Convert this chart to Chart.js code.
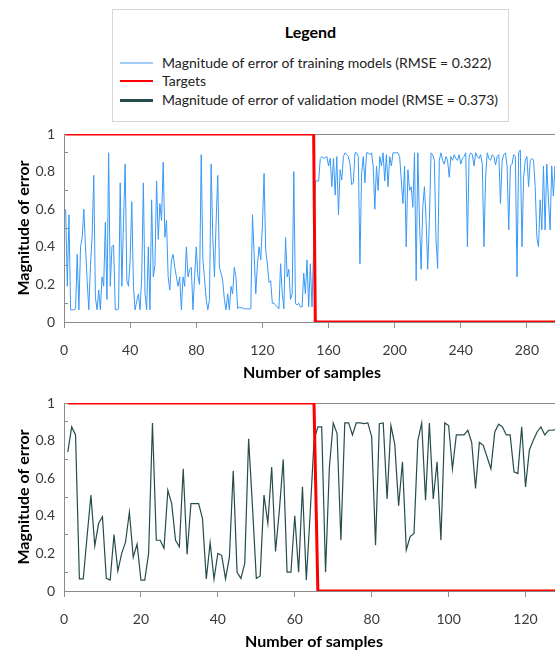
<!DOCTYPE html>
<html>
<head>
<meta charset="utf-8">
<script src="https://cdn.jsdelivr.net/npm/chart.js@4/dist/chart.umd.min.js"></script>
<style>
  html, body { margin: 0; padding: 0; background: #fff; overflow: hidden; }
  #page { position: relative; width: 555px; height: 650px; overflow: hidden; font-family: Lato, sans-serif; }
  canvas { position: absolute; left: 0; }
  #legend { position: absolute; left: 112px; top: 9px; width: 397px; height: 113px; border: 1px solid #d6d6d6; box-sizing: border-box; }
  #legend .title { position: absolute; left: 0; right: 0; top: 12px; text-align: center; font-weight: bold; font-size: 16px; line-height: 19px; color: #000; }
  #legend .item { position: absolute; left: 7px; height: 18px; line-height: 18px; font-size: 14px; color: #222; white-space: nowrap; }
  #legend .swatch { position: absolute; left: 0; width: 33px; }
  #legend .text { position: absolute; left: 42px; top: 0; }
</style>
</head>
<body>
<div id="page">
  <div id="legend"><div class="title">Legend</div></div>
  <canvas id="trainChart" width="560" height="258" style="top:124px"></canvas>
  <canvas id="valChart" width="564" height="258" style="top:393px"></canvas>
</div>
<script>
"use strict";
// training models: magnitude of error per sample (sample 1..300)
const trainError = [
    0.60, 0.19, 0.57, 0.065, 0.065, 0.065, 0.07, 0.36, 0.065, 0.40,
    0.45, 0.60, 0.40, 0.22, 0.065, 0.30, 0.45, 0.78, 0.13, 0.065,
    0.17, 0.065, 0.24, 0.19, 0.53, 0.12, 0.90, 0.19, 0.40, 0.41,
    0.065, 0.065, 0.07, 0.74, 0.19, 0.54, 0.84, 0.22, 0.19, 0.33,
    0.64, 0.19, 0.065, 0.11, 0.15, 0.065, 0.24, 0.74, 0.15, 0.065,
    0.40, 0.065, 0.65, 0.24, 0.30, 0.75, 0.44, 0.63, 0.54, 0.85,
    0.45, 0.54, 0.24, 0.17, 0.33, 0.36, 0.29, 0.24, 0.19, 0.24,
    0.065, 0.24, 0.19, 0.40, 0.24, 0.28, 0.29, 0.065, 0.24, 0.40,
    0.24, 0.20, 0.89, 0.33, 0.23, 0.12, 0.065, 0.12, 0.84, 0.45,
    0.24, 0.53, 0.78, 0.29, 0.26, 0.22, 0.12, 0.065, 0.15, 0.065,
    0.19, 0.15, 0.29, 0.24, 0.07, 0.08, 0.075, 0.075, 0.07, 0.07,
    0.07, 0.07, 0.07, 0.57, 0.36, 0.15, 0.31, 0.40, 0.33, 0.51,
    0.79, 0.38, 0.31, 0.21, 0.22, 0.10, 0.10, 0.09, 0.08, 0.07,
    0.31, 0.15, 0.07, 0.45, 0.24, 0.28, 0.12, 0.15, 0.80, 0.10,
    0.09, 0.10, 0.08, 0.08, 0.26, 0.15, 0.33, 0.08, 0.31, 0.08,
    0.40, 0.75, 0.75, 0.75, 0.87, 0.88, 0.87, 0.875, 0.88, 0.83,
    0.87, 0.72, 0.87, 0.675, 0.88, 0.57, 0.81, 0.755, 0.88, 0.90,
    0.89, 0.88, 0.84, 0.73, 0.74, 0.90, 0.90, 0.88, 0.31, 0.79,
    0.88, 0.74, 0.90, 0.90, 0.89, 0.90, 0.83, 0.60, 0.83, 0.70,
    0.88, 0.83, 0.90, 0.75, 0.89, 0.72, 0.88, 0.83, 0.90, 0.90,
    0.90, 0.90, 0.88, 0.755, 0.63, 0.83, 0.40, 0.81, 0.70, 0.72,
    0.61, 0.90, 0.22, 0.90, 0.54, 0.28, 0.61, 0.72, 0.54, 0.28,
    0.54, 0.90, 0.89, 0.86, 0.44, 0.285, 0.86, 0.90, 0.86, 0.84,
    0.88, 0.86, 0.77, 0.88, 0.86, 0.89, 0.87, 0.86, 0.89, 0.84,
    0.87, 0.88, 0.90, 0.40, 0.88, 0.90, 0.89, 0.83, 0.90, 0.88,
    0.87, 0.89, 0.84, 0.40, 0.77, 0.90, 0.87, 0.86, 0.89, 0.88,
    0.835, 0.88, 0.89, 0.63, 0.86, 0.89, 0.90, 0.83, 0.49, 0.83,
    0.84, 0.89, 0.88, 0.24, 0.90, 0.915, 0.40, 0.77, 0.86, 0.88,
    0.72, 0.86, 0.87, 0.86, 0.72, 0.45, 0.40, 0.65, 0.49, 0.83,
    0.49, 0.84, 0.65, 0.49, 0.83, 0.67, 0.83, 0.58, 0.75, 0.62
];
// validation model: magnitude of error per sample (sample 1..130)
const valError = [
    0.74, 0.873, 0.83, 0.064, 0.064, 0.29, 0.51, 0.24, 0.36, 0.395,
    0.067, 0.058, 0.30, 0.106, 0.20, 0.26, 0.42, 0.18, 0.25, 0.058,
    0.058, 0.20, 0.894, 0.27, 0.27, 0.227, 0.536, 0.465, 0.27, 0.235,
    0.65, 0.195, 0.465, 0.465, 0.465, 0.386, 0.064, 0.257, 0.064, 0.20,
    0.19, 0.064, 0.18, 0.64, 0.10, 0.067, 0.147, 0.81, 0.45, 0.067,
    0.08, 0.51, 0.36, 0.66, 0.21, 0.43, 0.70, 0.10, 0.10, 0.40,
    0.10, 0.554, 0.058, 0.41, 0.80, 0.873, 0.873, 0.10, 0.66, 0.894,
    0.837, 0.27, 0.894, 0.894, 0.83, 0.894, 0.894, 0.89, 0.894, 0.82,
    0.244, 0.89, 0.894, 0.49, 0.88, 0.78, 0.453, 0.687, 0.218, 0.29,
    0.306, 0.80, 0.894, 0.483, 0.894, 0.49, 0.687, 0.27, 0.894, 0.88,
    0.65, 0.83, 0.83, 0.83, 0.855, 0.79, 0.545, 0.79, 0.775, 0.713,
    0.65, 0.846, 0.887, 0.873, 0.83, 0.83, 0.634, 0.625, 0.873, 0.554,
    0.75, 0.80, 0.846, 0.873, 0.83, 0.855, 0.855, 0.86, 0.86, 0.86
];
// targets: 1 up to the class change, 0 after it
const trainTargetX = [1, 151, 152, 300];
const trainTargetY = [1, 1, 0, 0];
const valTargetX = [1, 65, 66, 130];
const valTargetY = [1, 1, 0, 0];

const TRAIN_LABEL = 'Magnitude of error of training models (RMSE = 0.322)';
const TARGET_LABEL = 'Targets';
const VAL_LABEL = 'Magnitude of error of validation model (RMSE = 0.373)';
const TRAIN_COLOR = 'rgb(56, 152, 245)';
const TARGET_COLOR = 'rgb(255, 0, 0)';
const VAL_COLOR = 'rgb(38, 76, 76)';
const AXIS_GRAY = '#8c8c8c';
const CLEAR = 'rgba(0,0,0,0)';

Chart.defaults.font.family = 'Lato, sans-serif';

function toPoints(xs, ys) {
    return ys.map((y, i) => ({ x: xs[i], y: y }));
}

function seriesPoints(values) {
    return values.map((v, i) => ({ x: i + 1, y: v }));
}

function buildChart(id, errorValues, label, color, width, tx, ty, xMax, xStep) {
    let ctx = document.getElementById(id).getContext('2d');
    return new Chart(ctx, {
        type: 'line',
        data: {
            datasets: [
                {
                    label: TARGET_LABEL,
                    data: toPoints(tx, ty),
                    borderColor: TARGET_COLOR,
                    borderWidth: 3,
                    order: 0
                },
                {
                    label: label,
                    data: seriesPoints(errorValues),
                    borderColor: color,
                    borderWidth: width,
                    order: 1
                }
            ]
        },
        options: {
            responsive: false,
            animation: false,
            layout: { padding: { top: 10, left: 0, right: 0, bottom: 0 } },
            elements: { point: { radius: 0 }, line: { tension: 0, fill: false } },
            plugins: { legend: { display: false }, tooltip: { enabled: false } },
            scales: {
                x: {
                    type: 'linear',
                    min: 0,
                    max: xMax,
                    ticks: { stepSize: xStep, includeBounds: false, padding: 14, color: '#3a3a3a', font: { size: 14 }, maxRotation: 0, autoSkip: false },
                    afterBuildTicks: s => { s.ticks = s.ticks.filter(t => t.value % xStep === 0); },
                    grid: { drawOnChartArea: false, tickLength: 6, tickColor: AXIS_GRAY, color: AXIS_GRAY },
                    border: { color: AXIS_GRAY, width: 1 },
                    title: { display: true, text: 'Number of samples', color: '#000', font: { size: 16, weight: 'bold' }, padding: 0 },
                    afterFit: s => { s.height = 60; }
                },
                y: {
                    min: 0,
                    max: 1,
                    ticks: {
                        stepSize: 0.1,
                        padding: 13,
                        color: '#3a3a3a',
                        font: { size: 14 },
                        autoSkip: false,
                        callback: v => Math.round(v * 10) % 2 === 0 ? String(Math.round(v * 10) / 10) : ''
                    },
                    grid: {
                        drawOnChartArea: true,
                        tickLength: -4,
                        color: c => (c.tick && c.tick.value === 1) ? AXIS_GRAY : CLEAR,
                        tickColor: c => (c.tick && Math.round(c.tick.value * 10) % 2 === 1) ? AXIS_GRAY : CLEAR
                    },
                    border: { color: AXIS_GRAY, width: 1 },
                    title: { display: true, text: 'Magnitude of error', color: '#000', font: { size: 16, weight: 'bold' }, padding: { top: 14, bottom: 0 } },
                    afterFit: s => {
                        s.width = 64;
                        s.paddingTop = 0;
                        s.paddingBottom = 0;
                    }
                }
            }
        }
    });
}

let trainChart = buildChart('trainChart', trainError, TRAIN_LABEL, TRAIN_COLOR, 1, trainTargetX, trainTargetY, 300, 40);
let valChart = buildChart('valChart', valError, VAL_LABEL, VAL_COLOR, 1.2, valTargetX, valTargetY, 130, 20);

// legend box shared by both charts
let legendEntries = [
    { label: TRAIN_LABEL, color: 'rgb(160, 204, 245)', size: 2, top: 44 },
    { label: TARGET_LABEL, color: TARGET_COLOR, size: 2, top: 62 },
    { label: VAL_LABEL, color: VAL_COLOR, size: 3, top: 81 }
];
let legend = document.getElementById('legend');
legendEntries.forEach(e => {
    let item = document.createElement('div');
    item.className = 'item';
    item.style.top = e.top + 'px';
    let sw = document.createElement('div');
    sw.className = 'swatch';
    sw.style.height = e.size + 'px';
    sw.style.top = (9 - e.size / 2) + 'px';
    sw.style.background = e.color;
    let txt = document.createElement('span');
    txt.className = 'text';
    txt.textContent = e.label;
    item.appendChild(sw);
    item.appendChild(txt);
    legend.appendChild(item);
});
</script>
</body>
</html>
